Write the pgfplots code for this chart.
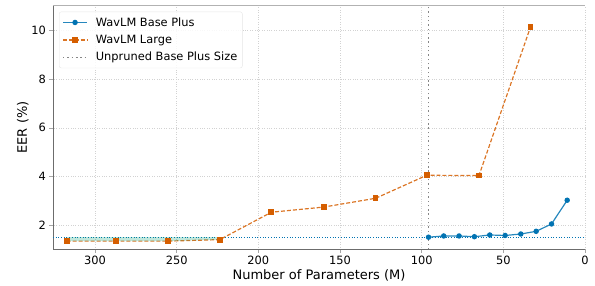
\documentclass[border=0pt]{standalone}
\usepackage{pgfplots}
\pgfplotsset{compat=1.18}
\usepackage{fontspec}
\setmainfont{DejaVu Sans}
\definecolor{cbblue}{HTML}{0173B2}
\definecolor{cborange}{HTML}{D55E00}
\definecolor{cbgreen}{HTML}{029E73}
\begin{document}
\begin{tikzpicture}
\begin{axis}[
  width=532bp, height=243.6bp, scale only axis,
  x dir=reverse,
  xmin=0, xmax=325.7,
  ymin=1.035, ymax=10.99,
  xtick={0,50,100,150,200,250,300},
  ytick={2,4,6,8,10},
  tick label style={font=\fontsize{11.4bp}{13bp}\selectfont},
  /pgf/number format/assume math mode=true,
  xlabel={Number of Parameters (M)},
  ylabel={EER (\%)},
  label style={font=\fontsize{13bp}{15bp}\selectfont},
  xlabel style={at={(axis description cs:0.5,-0.126)}, anchor=base},
  ylabel style={at={(axis description cs:-0.0489,0.5)}, anchor=base},
  grid=major,
  major grid style={dotted, gray!35, line width=0.5pt},
  tick align=outside,
  tick style={gray!70, line width=0.6pt},
  major tick length=3.5bp,
  axis line style={gray!85!black, line width=0.8pt},
  axis x line*=bottom, axis y line*=left,
  legend style={at={(axis description cs:0.0113,0.9754)}, anchor=north west,
    draw=gray!20, rounded corners=2pt, fill=white, fill opacity=0.85, text opacity=1,
    font=\fontsize{11.4bp}{13bp}\selectfont, row sep=3.5bp, column sep=6bp,
    inner xsep=3bp, inner ysep=3.5bp},
  legend cell align=left,
  legend image code/.code={
    \draw[mark repeat=2,mark phase=2,#1] plot coordinates {(0bp,0bp)(12bp,0bp)(24bp,0bp)};
  },
]
\coordinate (O) at (rel axis cs:0,0);
% top and right spines
\pgfplotsextra{
  \draw[gray!60, line width=0.8pt] (rel axis cs:0,1) -- (rel axis cs:1,1) -- (rel axis cs:1,0);
}
\addplot[cbblue, draw opacity=0.85, line width=1.2pt, mark=*, mark size=2.1pt,
  mark options={solid, fill=cbblue, draw=cbblue, fill opacity=1, draw opacity=1}]
coordinates {
(95.8,1.53) (86.5,1.58) (77.1,1.58) (67.7,1.55) (58.3,1.62)
(48.9,1.60) (39.3,1.66) (29.9,1.77) (20.5,2.07) (10.9,3.04)
};
\addlegendentry{WavLM Base Plus}
\addplot[cborange, draw opacity=0.85, line width=1.2pt, dash pattern=on 4pt off 2pt, mark=square*, mark size=2.3pt,
  mark options={solid, fill=cborange, draw=cborange, fill opacity=1, draw opacity=1}]
coordinates {
(317.3,1.37) (287,1.37) (255.2,1.37) (223.6,1.43) (192,2.55)
(160,2.76) (128.2,3.12) (96.9,4.06) (64.9,4.05) (33.3,10.13)
};
\addlegendentry{WavLM Large}
\addplot[gray!95, line width=1.7pt, dash pattern=on 1.4bp off 2.9bp] coordinates {(95.8,1.035) (95.8,10.99)};
\addlegendentry{Unpruned Base Plus Size}
\addplot[cbblue, line width=0.7pt, dotted, forget plot] coordinates {(325.7,1.53) (0,1.53)};
\addplot[fill=cbgreen, fill opacity=0.25, draw=none, forget plot] coordinates {
(317.3,1.53) (223.6,1.53) (223.6,1.43) (255.2,1.37) (287,1.37) (317.3,1.37)
};
\end{axis}
\pgfresetboundingbox
\path[use as bounding box] ([shift={(-53bp,-36.7bp)}]O) rectangle ([shift={(542bp,249.3bp)}]O);
\end{tikzpicture}
\end{document}
